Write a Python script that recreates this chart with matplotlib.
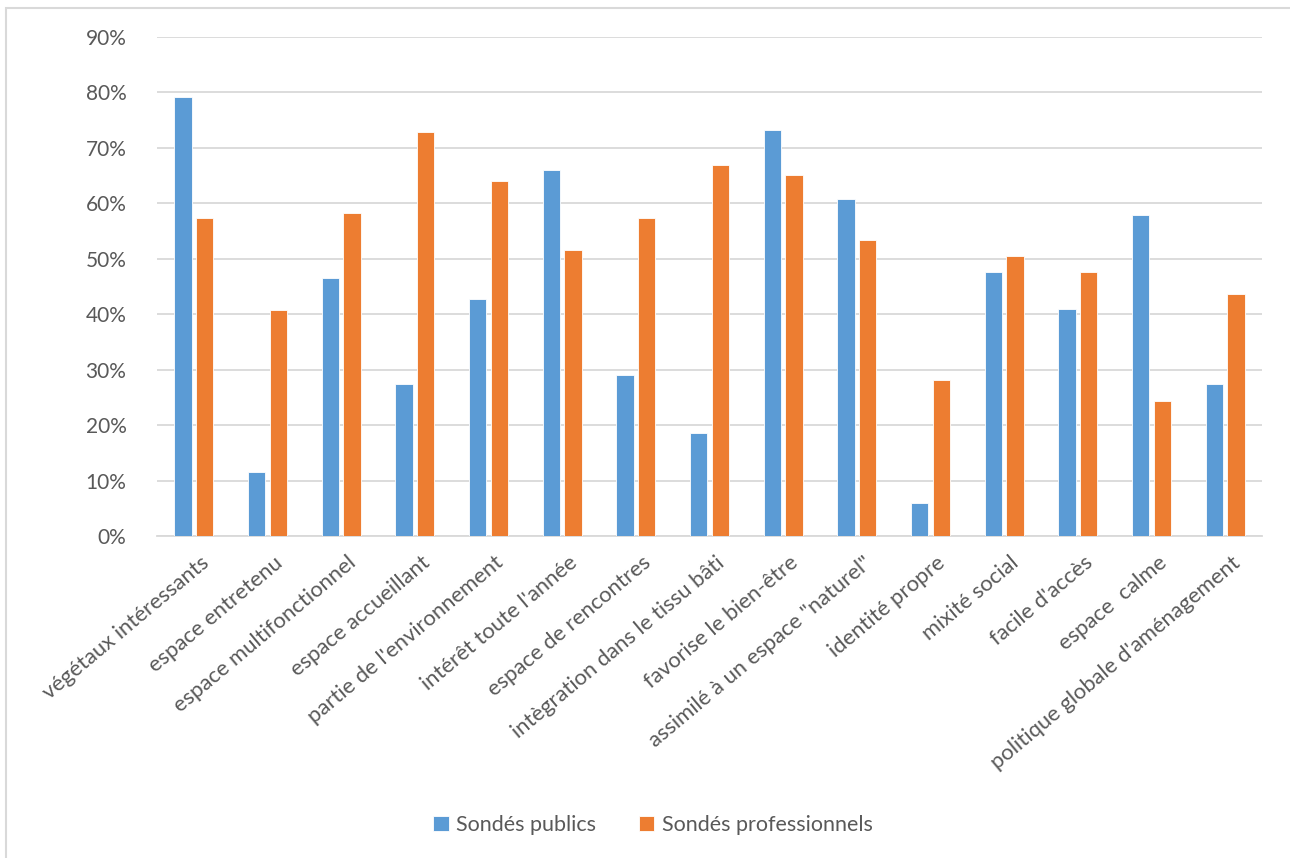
import numpy as np
import matplotlib
matplotlib.use("Agg")
import matplotlib.pyplot as plt
from matplotlib.patches import Rectangle
from matplotlib.ticker import FuncFormatter

categories = [
    "végétaux intéressants", "espace entretenu", "espace multifonctionnel",
    "espace accueillant", "partie de l'environnement", "intérêt toute l'année",
    "espace de rencontres", "intègration dans le tissu bâti",
    "favorise le bien-être", "assimilé à un espace \"naturel\"",
    "identité propre", "mixité social", "facile d'accès", "espace  calme",
    "politique globale d'aménagement",
]
publics = [79.2, 11.5, 46.5, 27.4, 42.7, 66.1, 29.0, 18.6, 73.2, 60.7,
           6.0, 47.6, 41.0, 57.9, 27.4]
professionnels = [57.3, 40.8, 58.3, 72.8, 64.1, 51.5, 57.3, 67.0, 65.1, 53.4,
                  28.2, 50.5, 47.6, 24.3, 43.7]
yticks = [0, 10, 20, 30, 40, 50, 60, 70, 80, 90]

plt.rcParams['font.family'] = ['Lato', 'DejaVu Sans']
txt = "#595959"

fig = plt.figure(figsize=(12.9, 8.58), dpi=100)
W, H = 1290, 858
ax = fig.add_axes([157 / W, 1 - 536 / H, (1262 - 157) / W, (536 - 37) / H])

x = np.arange(len(categories))
w = 0.235
gap = 0.06
ax.bar(x - (w + gap) / 2, publics, w, color="#5B9BD5", edgecolor="white",
       linewidth=0.6, label="Sondés publics", zorder=3)
ax.bar(x + (w + gap) / 2, professionnels, w, color="#ED7D31", edgecolor="white",
       linewidth=0.6, label="Sondés professionnels", zorder=3)

ax.set_xlim(-0.5, len(categories) - 0.5)
ax.set_ylim(0, 90)
ax.set_yticks(yticks)
ax.yaxis.set_major_formatter(FuncFormatter(lambda v, p: f"{v:.0f}%"))
ax.grid(axis="y", color="#D9D9D9", linewidth=1.3, zorder=0)
for s in ["top", "right", "left"]:
    ax.spines[s].set_visible(False)
ax.spines["bottom"].set_color("#D9D9D9")
ax.spines["bottom"].set_linewidth(1.3)
ax.tick_params(axis="y", length=0, pad=22, labelsize=15, labelcolor=txt)
ax.tick_params(axis="x", length=0, pad=12, labelsize=15.8, labelcolor=txt)

ax.set_xticks(x + 0.08)
ax.set_xticklabels(categories, rotation=40, ha="right", rotation_mode="anchor")

fig.legend(loc="center", bbox_to_anchor=(653 / W, 1 - 825 / H), ncol=2,
           frameon=False, fontsize=15.5, labelcolor=txt, handlelength=0.7,
           handleheight=0.7, handletextpad=0.35, columnspacing=2.0)

fig.patches.append(Rectangle((6 / W, -0.01), 1.02, 1 - 8 / H + 0.01,
                             transform=fig.transFigure, fill=False,
                             edgecolor="#D9D9D9", linewidth=1.5))

fig.savefig("out.png", dpi=100)
